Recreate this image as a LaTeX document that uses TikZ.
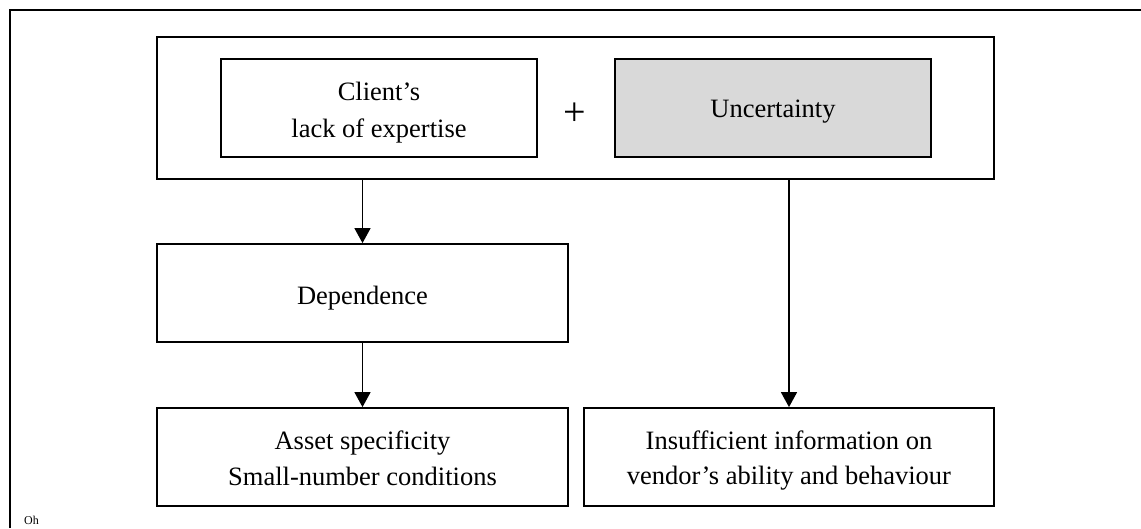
\documentclass[tikz,border=0pt]{standalone}
\usepackage{fontspec}
\setmainfont{Liberation Serif}
\usetikzlibrary{arrows.meta}
\definecolor{shade}{RGB}{217,217,217}
\begin{document}
\begin{tikzpicture}[x=1pt,y=-1pt,
  box/.style={draw=black,line width=1.8pt,rectangle,inner sep=0pt},
  txt/.style={font=\fontsize{26.5}{32}\selectfont,anchor=base,inner sep=0pt},
  link/.style={line width=1.5pt,-{Triangle[width=16pt,length=15pt]}}]
\useasboundingbox (0,0) rectangle (1141,528);
% page frame, open to the right and bottom
\draw[line width=2.6pt] (10,528) -- (10,10) -- (1141,10);

% boxes
\node[box,minimum width=837pt,minimum height=142pt] (top) at (575.5,108) {};
\node[box,minimum width=316pt,minimum height=98pt] (client) at (379,108) {};
\node[box,fill=shade,minimum width=316pt,minimum height=98pt] (unc) at (773,108) {};
\node[box,minimum width=411pt,minimum height=98pt] (dep) at (362.5,293) {};
\node[box,minimum width=411pt,minimum height=98pt] (asset) at (362.5,457) {};
\node[box,minimum width=410pt,minimum height=98pt] (info) at (789,457) {};

% labels
\node[txt] (client1) at (379,100) {Client’s};
\node[txt] (client2) at (379,137) {lack of expertise};
\node[txt] (unclbl) at (773,117) {Uncertainty};
\node[txt,font=\fontsize{40}{44}\selectfont] (plus) at (575,125) {+};
\node[txt] (deplbl) at (362.5,304) {Dependence};
\node[txt] (asset1) at (362.5,449) {Asset specificity};
\node[txt] (asset2) at (362.5,485) {Small-number conditions};
\node[txt] (info1) at (789,449) {Insufficient information on};
\node[txt] (info2) at (789,484) {vendor’s ability and behaviour};
\node[font=\fontsize{12}{14}\selectfont,anchor=base west,inner sep=0pt] (note) at (24,524) {Oh};

% connectors
\draw[link] (dep.north |- top.south) -- (dep.north);
\draw[link] (dep.south) -- (asset.north);
\draw[link] (info.north |- top.south) -- (info.north);
\end{tikzpicture}
\end{document}
